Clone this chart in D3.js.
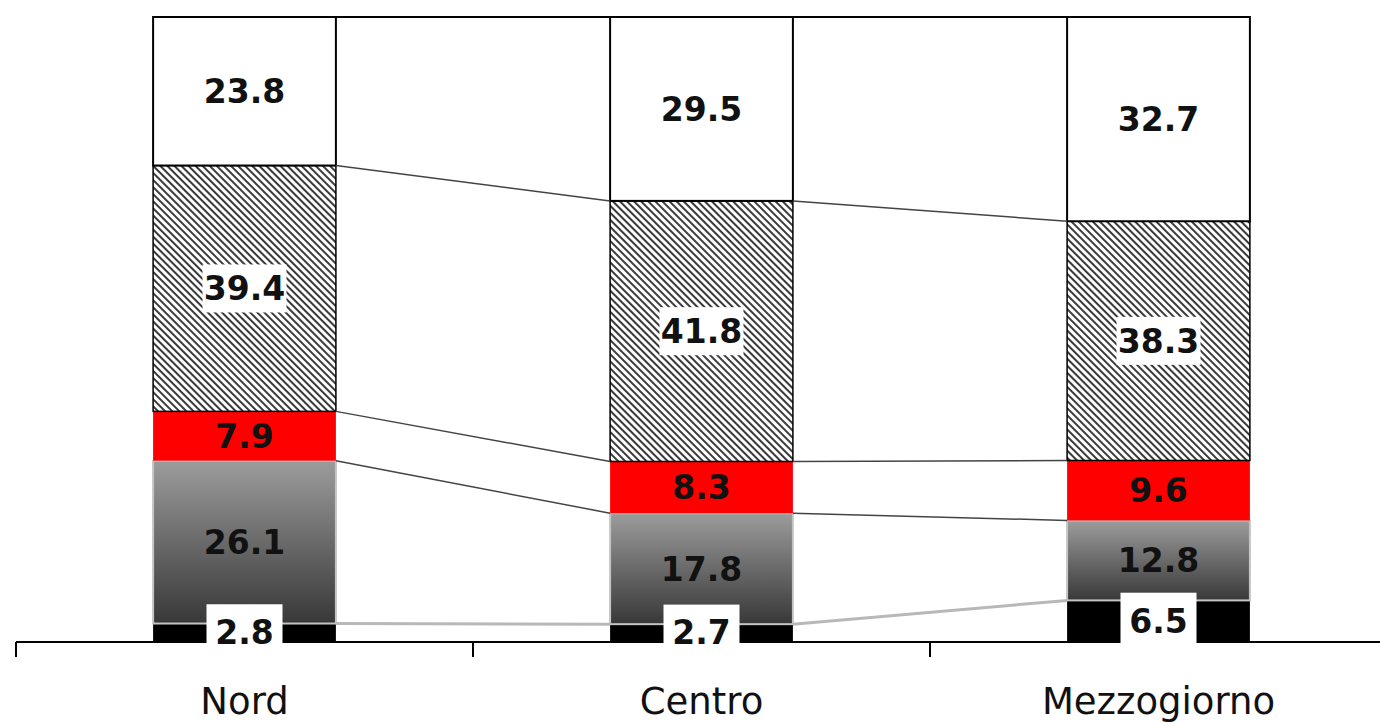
<!DOCTYPE html>
<html>
<head>
<meta charset="utf-8">
<script src="https://cdn.jsdelivr.net/npm/d3@7"></script>
<style>
  html, body { margin: 0; padding: 0; background: #fff; }
  svg { display: block; }
</style>
</head>
<body>
<svg id="chart" width="1380" height="722"></svg>
<script>
// dati (quote percentuali, dal basso verso l'alto)
const categories = ['Nord', 'Centro', 'Mezzogiorno'];
const serieNero = [2.8, 2.7, 6.5];
const serieGrigio = [26.1, 17.8, 12.8];
const serieRosso = [7.9, 8.3, 9.6];
const serieTratteggio = [39.4, 41.8, 38.3];
const serieBianco = [23.8, 29.5, 32.7];

const seriesKeys = ['nero', 'grigio', 'rosso', 'tratteggio', 'bianco'];
const seriesValues = [serieNero, serieGrigio, serieRosso, serieTratteggio, serieBianco];

const rows = categories.map((c, i) => {
    let r = { cat: c };
    seriesKeys.forEach((k, j) => { r[k] = seriesValues[j][i]; });
    return r;
});

const svg = d3.select('#chart');
const width = 1380, height = 722;
const x0 = 16, step = 457, baseY = 641, topY = 17;

const x = d3.scaleBand()
    .domain(categories)
    .range([x0, x0 + step * categories.length])
    .paddingInner(0.6)
    .paddingOuter(0.3);

const y = d3.scaleLinear().domain([0, 1]).range([baseY, topY]);

const stacked = d3.stack().keys(seriesKeys).offset(d3.stackOffsetExpand)(rows);

// pattern e gradiente
const defs = svg.append('defs');
const pat = defs.append('pattern')
    .attr('id', 'hatch')
    .attr('patternUnits', 'userSpaceOnUse')
    .attr('width', 5)
    .attr('height', 5)
    .attr('patternTransform', 'rotate(-45)');
pat.append('rect').attr('width', 5).attr('height', 5).attr('fill', '#fff');
pat.append('line')
    .attr('x1', 1).attr('y1', 0).attr('x2', 1).attr('y2', 5)
    .attr('stroke', '#3a3a3a').attr('stroke-width', 2);

const grad = defs.append('linearGradient')
    .attr('id', 'grayGrad')
    .attr('x1', 0).attr('y1', 0).attr('x2', 0).attr('y2', 1);
grad.append('stop').attr('offset', '0%').attr('stop-color', '#9c9c9c');
grad.append('stop').attr('offset', '100%').attr('stop-color', '#383838');

const style = {
    nero: { fill: '#000', stroke: 'none', sw: 0 },
    grigio: { fill: 'url(#grayGrad)', stroke: '#c4c4c4', sw: 2 },
    rosso: { fill: '#ff0000', stroke: 'none', sw: 0 },
    tratteggio: { fill: 'url(#hatch)', stroke: '#000', sw: 1.5 },
    bianco: { fill: '#fff', stroke: '#000', sw: 2 }
};

// segmenti
const layers = svg.append('g').selectAll('g')
    .data(stacked)
    .enter()
    .append('g');

layers.selectAll('rect')
    .data(d => d.map(v => ({ key: d.key, v: v })))
    .enter()
    .append('rect')
    .attr('x', d => x(d.v.data.cat))
    .attr('y', d => y(d.v[1]))
    .attr('width', x.bandwidth())
    .attr('height', d => y(d.v[0]) - y(d.v[1]))
    .attr('fill', d => style[d.key].fill)
    .attr('stroke', d => style[d.key].stroke)
    .attr('stroke-width', d => style[d.key].sw);

// linee di collegamento tra le barre
const links = [];
stacked.forEach(layer => {
    for (let i = 0; i < layer.length - 1; i++) {
        links.push({
            key: layer.key,
            x1: x(categories[i]) + x.bandwidth(),
            y1: y(layer[i][1]),
            x2: x(categories[i + 1]),
            y2: y(layer[i + 1][1])
        });
    }
});

svg.append('g').selectAll('line')
    .data(links)
    .enter()
    .append('line')
    .attr('x1', d => d.x1).attr('y1', d => d.y1)
    .attr('x2', d => d.x2).attr('y2', d => d.y2)
    .attr('stroke', d => d.key == 'bianco' ? '#000' : (d.key == 'nero' ? '#b8b8b8' : '#444'))
    .attr('stroke-width', d => d.key == 'bianco' ? 2 : (d.key == 'nero' ? 3 : 1.5));

// asse x
const axisG = svg.append('g');
axisG.append('line')
    .attr('x1', x0).attr('x2', width)
    .attr('y1', baseY + 1).attr('y2', baseY + 1)
    .attr('stroke', '#000').attr('stroke-width', 2);
axisG.selectAll('.tick')
    .data(d3.range(categories.length + 1))
    .enter()
    .append('line')
    .attr('x1', i => x0 + i * x.step())
    .attr('x2', i => x0 + i * x.step())
    .attr('y1', baseY + 1).attr('y2', baseY + 16)
    .attr('stroke', '#000').attr('stroke-width', 2);
axisG.selectAll('text')
    .data(categories)
    .enter()
    .append('text')
    .attr('x', d => x(d) + x.bandwidth() / 2)
    .attr('y', 714)
    .attr('text-anchor', 'middle')
    .attr('font-family', 'DejaVu Sans, Verdana, sans-serif')
    .attr('font-size', 37)
    .attr('fill', '#111')
    .text(d => d);

// etichette valori
const labels = [];
stacked.forEach(layer => {
    layer.forEach((v, i) => {
        labels.push({
            key: layer.key,
            value: rows[i][layer.key],
            cx: x(categories[i]) + x.bandwidth() / 2,
            cy: (y(v[0]) + y(v[1])) / 2
        });
    });
});

const labG = svg.append('g').selectAll('g')
    .data(labels)
    .enter()
    .append('g');

labG.filter(d => d.key == 'nero' || d.key == 'tratteggio')
    .append('rect')
    .attr('x', d => d.cx - (d.key == 'nero' ? 38 : 42))
    .attr('y', d => d.cy - (d.key == 'nero' ? 28 : 24))
    .attr('width', d => d.key == 'nero' ? 76 : 84)
    .attr('height', d => d.key == 'nero' ? 56 : 48)
    .attr('fill', '#fff');

labG.append('text')
    .attr('x', d => d.cx)
    .attr('y', d => d.cy)
    .attr('dy', '0.36em')
    .attr('text-anchor', 'middle')
    .attr('font-family', 'DejaVu Sans, Verdana, sans-serif')
    .attr('font-weight', 'bold')
    .attr('font-size', 33)
    .attr('fill', '#111')
    .text(d => d.value.toFixed(1));
</script>
</body>
</html>
